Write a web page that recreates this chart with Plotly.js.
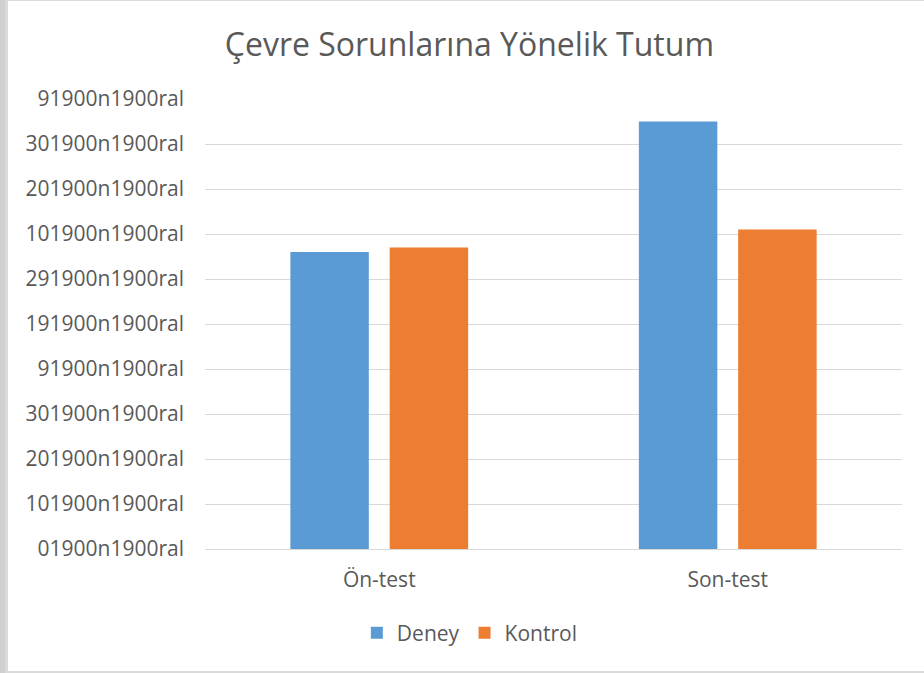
<!DOCTYPE html>
<html>
<head>
<meta charset="utf-8">
<script src="https://cdn.plot.ly/plotly-3.0.1.min.js"></script>
<style>
  body { margin: 0; background: #ffffff; }
  #wrap { position: relative; width: 924px; height: 673px; overflow: hidden; }
  #chart { width: 924px; height: 673px; }
  .edge { position: absolute; pointer-events: none; }
</style>
</head>
<body>
<div id="wrap">
  <div id="chart"></div>
  <div class="edge" style="left:0;top:0;width:5px;height:673px;background:#d0d0d0;"></div>
  <div class="edge" style="left:5px;top:0;width:3px;height:673px;background:#dadada;"></div>
  <div class="edge" style="left:8px;top:0;width:916px;height:1px;background:#dadada;"></div>
  <div class="edge" style="left:8px;top:671px;width:916px;height:2px;background:#dadada;"></div>
</div>
<script>
const categories = ["Ön-test", "Son-test"];
const deneyValues = [6.6, 9.5];
const kontrolValues = [6.7, 7.1];
const seriesNames = ["Deney", "Kontrol"];
const yTickValues = [0, 1, 2, 3, 4, 5, 6, 7, 8, 9, 10];
const yTickLabels = ["01900n1900ral", "101900n1900ral", "201900n1900ral", "301900n1900ral",
  "91900n1900ral", "191900n1900ral", "291900n1900ral", "101900n1900ral",
  "201900n1900ral", "301900n1900ral", "91900n1900ral"];
const chartTitle = "Çevre Sorunlarına Yönelik Tutum";

const fontFamily = "Open Sans, Noto Sans, sans-serif";
const textColor = "#595959";

const traces = [
  { type: "bar", name: seriesNames[0], x: categories, y: deneyValues,
    marker: { color: "#5b9bd5" }, hoverinfo: "x+y+name" },
  { type: "bar", name: seriesNames[1], x: categories, y: kontrolValues,
    marker: { color: "#ed7d31" }, hoverinfo: "x+y+name" }
];

const layout = {
  width: 924, height: 673,
  paper_bgcolor: "#ffffff", plot_bgcolor: "#ffffff",
  margin: { l: 205, r: 22, t: 99, b: 124 },
  font: { family: fontFamily, color: textColor, size: 20 },
  title: { text: chartTitle, font: { family: fontFamily, size: 32, color: textColor },
    x: 0.508, xanchor: "center", y: 0.934, yanchor: "middle" },
  barmode: "group", bargap: 0.43, bargroupgap: 0.21,
  xaxis: { type: "category", showgrid: false, showline: true, linecolor: "#d9d9d9", linewidth: 1,
    ticks: "", tickfont: { size: 21, color: textColor }, ticklabelstandoff: 12, fixedrange: true },
  yaxis: { range: [0, 10], tickvals: yTickValues, ticktext: yTickLabels,
    showgrid: true, gridcolor: "#d9d9d9", gridwidth: 1, zeroline: false, showline: false,
    ticks: "", tickfont: { size: 21, color: textColor }, ticklabelstandoff: 20, fixedrange: true },
  showlegend: true,
  legend: { orientation: "h", x: 0.380, xanchor: "center", y: -0.187, yanchor: "middle",
    font: { size: 21, color: textColor }, itemwidth: 30, traceorder: "normal" }
};

Plotly.newPlot("chart", traces, layout, { displayModeBar: false, staticPlot: true });
</script>
</body>
</html>
